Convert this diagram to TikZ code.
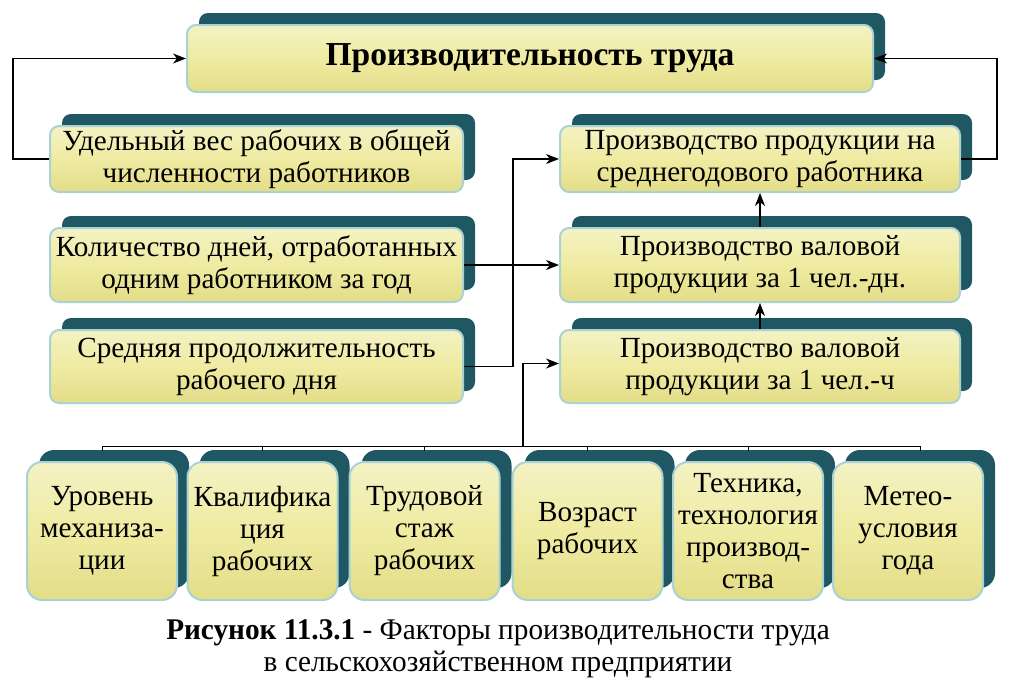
\documentclass[tikz,border=0pt]{standalone}
\usepackage{fontspec}
\setmainfont{Liberation Serif}
\newfontfamily\ls{Liberation Serif}
\newfontfamily\capfont{Liberation Serif}[FakeStretch=0.975]
\usetikzlibrary{shadows,arrows.meta,calc}
\definecolor{shd}{HTML}{1F5763}
\definecolor{yA}{HTML}{F4F2C4}
\definecolor{yB}{HTML}{EFEBA2}
\definecolor{yC}{HTML}{E3DD88}
\definecolor{bord}{HTML}{A9D2D4}
\tikzset{
  fbox/.style={rectangle, rounded corners=9pt, draw=bord, line width=2pt,
    top color=yA, bottom color=yC, middle color=yB,
    general shadow={fill=shd, draw=none, shadow xshift=12pt, shadow yshift=12pt},
    font=\ls\fontsize{29.2}{32}\selectfont, align=center, inner sep=0pt, text=black},
  widebox/.style={fbox, minimum width=413pt},
  rbox/.style={fbox, minimum width=400pt},
  sqbox/.style={fbox, rounded corners=15pt, minimum width=150pt, minimum height=138pt},
  conn/.style={draw=black, line width=1.3pt},
  arr/.style={conn, -{Stealth[length=13pt,width=10pt,inset=4pt]}},
  thin/.style={draw=black, line width=1pt}
}
\begin{document}
\begin{tikzpicture}[x=1pt,y=-1pt]
\useasboundingbox (0,0) rectangle (1024,683);
% title
\node[fbox, minimum width=686pt, minimum height=67pt, font=\ls\fontsize{33.5}{35}\selectfont\bfseries] (title) at (530,58.5) {Производительность труда};
% left column
\node[widebox, minimum height=66pt] (L1) at (256.5,159) {Удельный вес рабочих в общей\\численности работников};
\node[widebox, minimum height=74pt] (L2) at (256.5,265) {Количество дней, отработанных\\одним работником за год};
\node[widebox, minimum height=73pt] (L3) at (256.5,366.5) {Средняя продолжительность\\рабочего дня};
% right column
\node[rbox, minimum height=66pt] (R1) at (760,159) {Производство продукции на\\среднегодового работника};
\node[rbox, minimum height=74pt] (R2) at (760,265) {Производство валовой\\продукции за 1 чел.-дн.};
\node[rbox, minimum height=73pt] (R3) at (760,366.5) {Производство валовой\\продукции за 1 чел.-ч};
% bottom row
\node[sqbox] (B1) at (102,531) {Уровень\\механиза-\\ции};
\node[sqbox] (B2) at (262.5,531) {Квалифика\\ция\\рабочих};
\node[sqbox] (B3) at (424.5,531) {Трудовой\\стаж\\рабочих};
\node[sqbox] (B4) at (587.5,531) {Возраст\\рабочих};
\node[sqbox] (B5) at (748,531) {Техника,\\технология\\производ-\\ства};
\node[sqbox] (B6) at (908,531) {Метео-\\условия\\года};
% connectors
\draw[arr] (L1.west) -- ++(-36,0) |- (title.west);
\draw[arr] (R1.east) -- ++(36,0) |- (title.east);
\draw[arr] (L3.east) -- ++(49,0) |- (R1.west);
\draw[arr] (L2.east) -- (R2.west);
\draw[arr] (R2.north) -- (R1.south);
\draw[arr] (R3.north) -- (R2.south);
% bus
\coordinate (busL) at ($(B1.north)+(0,-15)$);
\coordinate (busR) at ($(B6.north)+(12,-15)$);
\coordinate (busM) at (523,447);
\draw[thin] (busL) -- (busR);
\foreach \b in {B1,B2,B3,B4,B5} \draw[thin] ($(\b.north)+(0,-15)$) -- ($(\b.north)+(0,-10)$);
\draw[thin] (busR) -- ++(0,5);
\draw[arr] (busM) |- ([yshift=3pt]R3.west);
% caption
\node[font=\capfont\fontsize{30}{32}\selectfont, align=center, inner sep=0pt] (cap) at (498,649)
  {\textbf{Рисунок 11.3.1} - Факторы производительности труда\\в сельскохозяйственном предприятии};
\end{tikzpicture}
\end{document}
